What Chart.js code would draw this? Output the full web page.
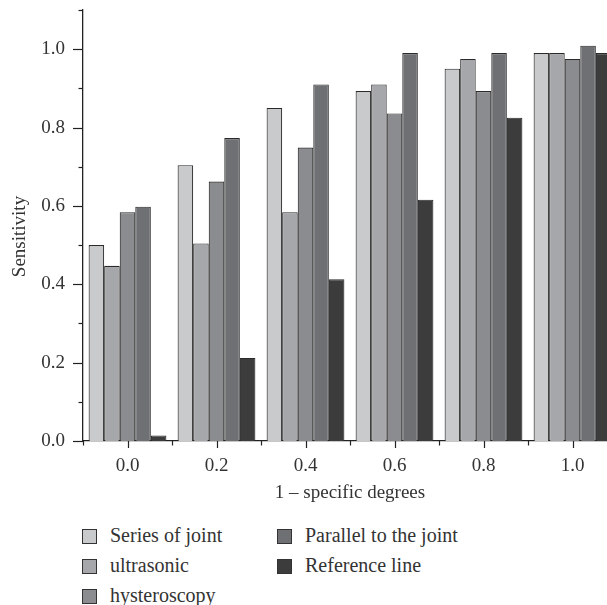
<!DOCTYPE html>
<html>
<head>
<meta charset="utf-8">
<script src="https://cdn.jsdelivr.net/npm/chart.js@4.4.1/dist/chart.umd.min.js"></script>
<style>
  html, body { margin: 0; padding: 0; background: #fff; overflow: hidden; width: 607px; height: 605px; }
  #wrap { position: relative; width: 622px; height: 605px; }
  #chartBox { position: absolute; left: 0; top: 0; width: 622px; height: 510px; }
  .lg { position: absolute; font-family: "Liberation Serif", "DejaVu Serif", serif; font-size: 20px; color: #333; white-space: nowrap; }
  .lg .sw { position: absolute; left: 0; top: 0; width: 13px; height: 13px; border: 1px solid #333; }
  .lg .tx { position: absolute; left: 28px; top: -5px; line-height: 22px; }
</style>
</head>
<body>
<div id="wrap">
  <div id="chartBox"><canvas id="c"></canvas></div>
  <div id="legend"></div>
</div>
<script>
const categories = ['0.0', '0.2', '0.4', '0.6', '0.8', '1.0'];
const seriesNames = ['Series of joint', 'ultrasonic', 'hysteroscopy', 'Parallel to the joint', 'Reference line'];
const seriesOfJoint = [0.500, 0.704, 0.850, 0.893, 0.950, 0.990];
const ultrasonic    = [0.447, 0.504, 0.584, 0.910, 0.975, 0.990];
const hysteroscopy  = [0.584, 0.662, 0.749, 0.836, 0.893, 0.975];
const parallelJoint = [0.598, 0.773, 0.910, 0.990, 0.990, 1.009];
const referenceLine = [0.014, 0.212, 0.413, 0.616, 0.825, 0.990];
const seriesColors = ['#c9cacc', '#a6a7aa', '#8b8c90', '#6f7074', '#3c3c3c'];
const yTitle = 'Sensitivity';
const xTitle = '1 \u2013 specific degrees';

const seriesValues = [seriesOfJoint, ultrasonic, hysteroscopy, parallelJoint, referenceLine];
const FONT = '"Liberation Serif", "DejaVu Serif", serif';
const TXT = '#333';

const axisTicks = {
  id: 'axisTicks',
  afterDraw(chart) {
    const ctx = chart.ctx;
    const x = chart.scales.x, y = chart.scales.y;
    ctx.save();
    ctx.strokeStyle = '#222';
    ctx.lineWidth = 1.2;
    const w = x.getPixelForValue(1) - x.getPixelForValue(0);
    // x major ticks at category centres
    for (let i = 0; i < categories.length; i++) {
      const px = Math.round(x.getPixelForValue(i)) + 0.5;
      ctx.beginPath(); ctx.moveTo(px, y.bottom); ctx.lineTo(px, y.bottom + 7); ctx.stroke();
    }
    // x minor ticks at category boundaries
    for (let i = 0; i <= categories.length; i++) {
      const px = Math.round(x.getPixelForValue(0) - w / 2 + i * w) + 0.5;
      ctx.beginPath(); ctx.moveTo(px, y.bottom); ctx.lineTo(px, y.bottom + 4.5); ctx.stroke();
    }
    // y ticks every tenth: major on even, minor on odd
    for (let k = 0; k <= 11; k++) {
      const py = Math.round(y.getPixelForValue(k / 10)) + 0.5;
      const len = (k % 2 === 0) ? 10 : 4.5;
      ctx.beginPath(); ctx.moveTo(x.left, py); ctx.lineTo(x.left - len, py); ctx.stroke();
    }
    // y title
    ctx.fillStyle = TXT;
    ctx.font = '19px ' + FONT;
    ctx.textAlign = 'center';
    ctx.textBaseline = 'middle';
    ctx.translate(20.5, 236.5);
    ctx.rotate(-Math.PI / 2);
    ctx.fillText(yTitle, 0, 0);
    ctx.restore();
  }
};

new Chart(document.getElementById('c'), {
  type: 'bar',
  data: {
    labels: categories,
    datasets: seriesNames.map((n, i) => ({
      label: n,
      data: seriesValues[i],
      backgroundColor: seriesColors[i],
      borderColor: '#2a2a2a',
      borderWidth: 1.1,
      categoryPercentage: 0.874,
      barPercentage: 1.0
    }))
  },
  options: {
    responsive: true,
    maintainAspectRatio: false,
    animation: false,
    events: [],
    layout: { padding: { top: 10, right: 5, left: 0, bottom: 0 } },
    plugins: { legend: { display: false }, tooltip: { enabled: false } },
    scales: {
      x: {
        type: 'category',
        offset: true,
        afterFit(s) { s.height = 69; s.paddingLeft = 0; s.paddingRight = 0; },
        grid: { display: false, drawOnChartArea: false, drawTicks: false },
        border: { display: true, color: '#222', width: 1.3 },
        ticks: { color: TXT, font: { family: FONT, size: 19 }, padding: 14, maxRotation: 0, autoSkip: false },
        title: { display: true, text: xTitle, color: TXT, font: { family: FONT, size: 19 }, padding: { top: 0, bottom: 6 } }
      },
      y: {
        min: 0, max: 1.1,
        afterFit(s) { s.width = 83; s.paddingTop = 0; s.paddingBottom = 0; },
        grid: { display: false, drawOnChartArea: false, drawTicks: false },
        border: { display: true, color: '#222', width: 1.3 },
        ticks: {
          stepSize: 0.1,
          color: TXT, font: { family: FONT, size: 19 }, padding: 18,
          callback: (v) => (Math.round(v * 10) % 2 === 0 ? Number(v).toFixed(1) : '')
        },
        title: { display: false }
      }
    }
  },
  plugins: [axisTicks]
});

// legend (column-major, 3 rows)
const legend = document.getElementById('legend');
const legendCols = [82, 277];
const legendRows = [529, 559, 589];
seriesNames.forEach((n, i) => {
  const col = Math.floor(i / 3), row = i % 3;
  const d = document.createElement('div');
  d.className = 'lg';
  d.style.left = legendCols[col] + 'px';
  d.style.top = legendRows[row] + 'px';
  d.innerHTML = '<span class="sw" style="background:' + seriesColors[i] + '"></span><span class="tx"></span>';
  d.querySelector('.tx').textContent = n;
  legend.appendChild(d);
});
</script>
</body>
</html>
